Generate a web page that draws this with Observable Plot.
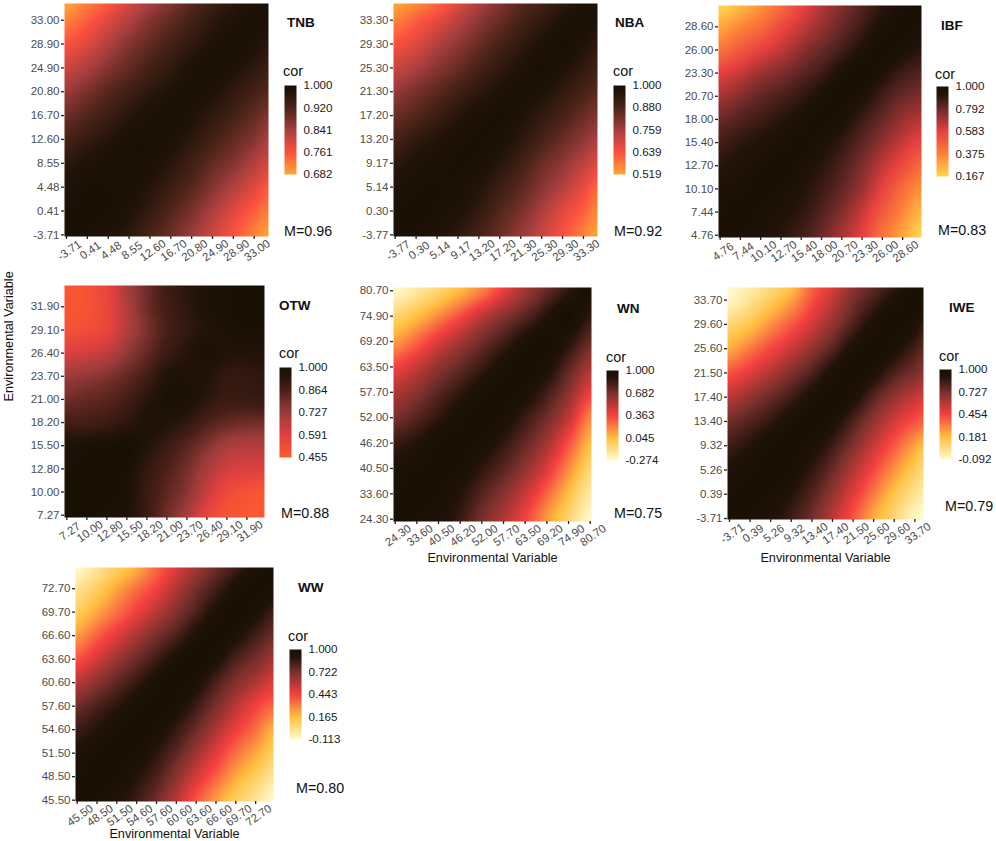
<!DOCTYPE html>
<html>
<head>
<meta charset="utf-8">
<script src="https://cdn.jsdelivr.net/npm/d3@7"></script>
<script src="https://cdn.jsdelivr.net/npm/@observablehq/plot@0.6"></script>
<style>
html,body{margin:0;padding:0;background:#fff}
#page{position:relative;width:996px;height:841px;overflow:hidden;font-family:"Liberation Sans",Arial,sans-serif;color:#111}
#page svg{position:absolute;background:transparent;overflow:visible;opacity:.999}
.t{position:absolute;white-space:nowrap;transform:translateY(-50%);line-height:1}
.title{font-weight:bold;font-size:13.5px}
.cor{font-size:14.4px}
.m{font-size:14.3px}
</style>
</head>
<body>
<div id="page"></div>
<script>
const names = ["TNB","NBA","IBF","OTW","WN","IWE","WW"];
const meanLabels = ["M=0.96","M=0.92","M=0.83","M=0.88","M=0.75","M=0.79","M=0.80"];

const ticksTNB = ["-3.71","0.41","4.48","8.55","12.60","16.70","20.80","24.90","28.90","33.00"];
const ticksNBA = ["-3.77","0.30","5.14","9.17","13.20","17.20","21.30","25.30","29.30","33.30"];
const ticksIBF = ["4.76","7.44","10.10","12.70","15.40","18.00","20.70","23.30","26.00","28.60"];
const ticksOTW = ["7.27","10.00","12.80","15.50","18.20","21.00","23.70","26.40","29.10","31.90"];
const ticksWN  = ["24.30","33.60","40.50","46.20","52.00","57.70","63.50","69.20","74.90","80.70"];
const ticksIWE = ["-3.71","0.39","5.26","9.32","13.40","17.40","21.50","25.60","29.60","33.70"];
const ticksWW  = ["45.50","48.50","51.50","54.60","57.60","60.60","63.60","66.60","69.70","72.70"];

const legendTNB = [0.682,0.761,0.841,0.920,1];
const legendNBA = [0.519,0.639,0.759,0.880,1];
const legendIBF = [0.167,0.375,0.583,0.792,1];
const legendOTW = [0.455,0.591,0.727,0.864,1];
const legendWN  = [-0.274,0.045,0.363,0.682,1];
const legendIWE = [-0.092,0.181,0.454,0.727,1];
const legendWW  = [-0.113,0.165,0.443,0.722,1];

// correlation read at the tick positions; first row is the bottom row of the panel
const corTNB = [
[1,.995,.98,.96,.925,.89,.85,.805,.76,.715,.685],
[.995,1,.995,.98,.95,.915,.88,.835,.79,.75,.72],
[.98,.995,.995,.99,.97,.94,.91,.87,.83,.79,.755],
[.96,.98,.99,.995,.99,.965,.935,.90,.87,.83,.80],
[.925,.95,.97,.99,.995,.985,.96,.93,.90,.87,.84],
[.89,.915,.94,.965,.985,.995,.98,.955,.93,.90,.875],
[.85,.88,.91,.935,.96,.98,.995,.98,.955,.93,.91],
[.805,.835,.87,.90,.93,.955,.98,.995,.98,.96,.94],
[.76,.79,.83,.87,.90,.93,.955,.98,.995,.98,.965],
[.715,.75,.79,.83,.87,.90,.93,.96,.98,.995,.985],
[.685,.72,.755,.80,.84,.875,.91,.94,.965,.985,1]];
const corNBA = [
[1,.99,.97,.94,.89,.84,.78,.71,.64,.57,.52],
[.99,1,.99,.97,.93,.87,.82,.75,.68,.62,.56],
[.97,.99,.995,.985,.96,.91,.86,.80,.74,.67,.61],
[.94,.97,.985,.995,.985,.95,.90,.84,.79,.73,.68],
[.89,.93,.96,.985,.995,.98,.94,.89,.84,.79,.75],
[.84,.87,.91,.95,.98,.995,.97,.93,.89,.84,.81],
[.78,.82,.86,.90,.94,.97,.995,.97,.93,.89,.86],
[.71,.75,.80,.84,.89,.93,.97,.995,.97,.93,.90],
[.64,.68,.74,.79,.84,.89,.93,.97,.995,.97,.94],
[.57,.62,.67,.73,.79,.84,.89,.93,.97,.995,.975],
[.52,.56,.61,.68,.75,.81,.86,.90,.94,.975,1]];
const corIBF = [
[1,.985,.96,.92,.87,.79,.69,.58,.41,.28,.17],
[.985,1,.98,.95,.91,.84,.75,.64,.50,.36,.24],
[.96,.98,1,.98,.94,.88,.81,.71,.58,.44,.33],
[.92,.95,.98,1,.97,.92,.85,.76,.65,.55,.44],
[.87,.91,.94,.97,1,.96,.90,.82,.73,.64,.57],
[.79,.84,.88,.92,.96,1,.96,.88,.80,.72,.67],
[.69,.75,.81,.85,.90,.96,1,.96,.87,.80,.76],
[.58,.64,.71,.76,.82,.88,.96,1,.95,.88,.84],
[.41,.50,.58,.65,.73,.80,.87,.95,1,.96,.92],
[.28,.36,.44,.55,.64,.72,.80,.88,.96,1,.98],
[.17,.24,.33,.44,.57,.67,.76,.84,.92,.98,1]];
const corOTW = [
[1,1,.99,.97,.90,.80,.70,.56,.49,.47,.46],
[1,1,1,.98,.90,.83,.76,.64,.54,.50,.48],
[.99,1,1,.99,.92,.86,.79,.70,.62,.60,.60],
[.97,.98,.99,1,.96,.90,.84,.77,.70,.68,.68],
[.88,.88,.90,.93,.97,.96,.92,.86,.82,.80,.80],
[.80,.82,.84,.88,.94,.98,.98,.93,.90,.90,.91],
[.72,.74,.77,.82,.88,.96,.97,.96,.92,.92,.93],
[.60,.62,.66,.74,.82,.90,.95,.98,.96,.96,.96],
[.50,.52,.56,.68,.78,.87,.92,.96,.98,.99,.99],
[.48,.50,.55,.68,.80,.88,.93,.97,.99,1,1],
[.47,.50,.56,.70,.80,.89,.94,.97,.99,1,1]];
const corWN = [
[1,.985,.94,.84,.68,.54,.36,.13,-.07,-.27],
[.985,1,.98,.90,.77,.64,.48,.27,.04,-.18],
[.94,.98,1,.98,.87,.76,.62,.43,.18,-.08],
[.84,.90,.98,1,.96,.86,.73,.57,.33,.04],
[.68,.77,.87,.96,1,.96,.84,.70,.50,.18],
[.54,.64,.76,.86,.96,1,.95,.82,.64,.38],
[.36,.48,.62,.73,.84,.95,1,.94,.76,.56],
[.13,.27,.43,.57,.70,.82,.94,1,.90,.72],
[-.07,.04,.18,.33,.50,.64,.76,.90,1,.86],
[-.27,-.18,-.08,.04,.18,.38,.56,.72,.86,1]];
const corIWE = [
[1,.98,.93,.85,.74,.58,.41,.22,.08,-.07,-.09],
[.98,1,.98,.91,.81,.67,.50,.33,.16,.03,-.02],
[.93,.98,1,.98,.88,.76,.60,.44,.28,.13,.07],
[.85,.91,.98,1,.96,.85,.71,.55,.40,.25,.18],
[.74,.81,.88,.96,1,.95,.82,.67,.53,.42,.38],
[.58,.67,.76,.85,.95,1,.95,.80,.67,.57,.52],
[.41,.50,.60,.71,.82,.95,1,.95,.82,.73,.68],
[.22,.33,.44,.55,.67,.80,.95,1,.95,.84,.79],
[.08,.16,.28,.40,.53,.67,.82,.95,1,.95,.88],
[-.07,.03,.13,.25,.42,.57,.73,.84,.95,1,.97],
[-.09,-.02,.07,.18,.38,.52,.68,.79,.88,.97,1]];
const corWW = [
[1,.98,.93,.85,.74,.58,.40,.24,.10,0,-.11],
[.98,1,.98,.91,.82,.68,.52,.37,.22,.10,0],
[.93,.98,1,.98,.89,.78,.64,.49,.34,.22,.10],
[.85,.91,.98,1,.97,.87,.75,.61,.46,.34,.20],
[.74,.82,.89,.97,1,.96,.85,.72,.58,.45,.36],
[.58,.68,.78,.87,.96,1,.95,.82,.70,.60,.50],
[.40,.52,.64,.75,.85,.95,1,.94,.82,.73,.63],
[.24,.37,.49,.61,.72,.82,.94,1,.94,.84,.75],
[.10,.22,.34,.46,.58,.70,.82,.94,1,.95,.85],
[0,.10,.22,.34,.45,.60,.73,.84,.95,1,.96],
[-.11,0,.10,.20,.36,.50,.63,.75,.85,.96,1]];

const ink = "#191004";
const nearInk = "#22130a";
const rampTNB = ["#ffa733","#fb5040","#a63e3e","#4b2418",nearInk,ink];
const rampIBF = ["#ffd84a","#ff7f38","#e84040","#6b2a28",nearInk,ink];
const rampOTW = ["#ff5a30","#e04040","#9a3c3a","#4a2018",nearInk,ink];
const rampWN  = ["#fffcd0","#ffc040","#f54040","#78302c",nearInk,ink];

// layout (page pixels)
const rects = [[64,3,268,236],[393,3,597,236],[718,5,921,237],[64,285,264,517],[393,287,591,521],[727,287,923,519],[75,567,273,801]];
const xDomains = [[-.096,9.686],[-.08,9.67],[-.08,9.93],[-.117,9.88],[-.077,9.06],[-.097,9.42],[-.084,9.9]];
const yDomains = [[-.07,9.70],[-.07,9.70],[-.10,9.92],[-.10,9.92],[-.09,9.13],[-.04,9.52],[-.057,9.9]];
const bars = [[284,85,174],[613,85,174],[936,86,176],[279,367,457],[606,370,460],[939,369,459],[289,649,739]];
const titlePos = [[287,23],[615,23],[941,26],[279,306],[617,309],[949,308],[298,588]];
const corPos = [[283,71],[613,71],[935,74],[279,353],[606,357],[939,356],[288,636]];
const meanPos = [[284,231],[614,231],[938,230],[281,513],[614,513],[945,506],[296,788]];
const tickSets = [ticksTNB,ticksNBA,ticksIBF,ticksOTW,ticksWN,ticksIWE,ticksWW];
const legends = [legendTNB,legendNBA,legendIBF,legendOTW,legendWN,legendIWE,legendWW];
const matrices = [corTNB,corNBA,corIBF,corOTW,corWN,corIWE,corWW];
const ramps = [rampTNB,rampTNB,rampIBF,rampOTW,rampWN,rampWN,rampWN];
const xTitleOffset = [null,null,null,null,36,38,32];
const showY = [false,false,false,true,false,false,false];
const axisTitle = "Environmental Variable";

const page = document.getElementById("page");
const font = {fontFamily:'"Liberation Sans",Arial,sans-serif'};

function label(cls, text, [x, y]) {
  const d = document.createElement("div");
  d.className = "t " + cls;
  d.textContent = text;
  d.style.left = x + "px";
  d.style.top = y + "px";
  page.appendChild(d);
}

// smooth reading of a matrix between the nodes it was read at
function sampler(m, nx, ny) {
  const cr = (a, b, c, d, t) => b + 0.5 * t * (c - a + t * (2 * a - 5 * b + 4 * c - d + t * (3 * (b - c) + d - a)));
  const n = m.length;
  const at = (j, i) => m[Math.max(0, Math.min(n - 1, j))][Math.max(0, Math.min(n - 1, i))];
  return (x, y) => {
    const i = Math.max(0, Math.min(n - 2, d3.bisectRight(nx, x) - 1));
    const j = Math.max(0, Math.min(n - 2, d3.bisectRight(ny, y) - 1));
    const u = (x - nx[i]) / (nx[i + 1] - nx[i]);
    const w = (y - ny[j]) / (ny[j + 1] - ny[j]);
    const row = r => cr(at(r, i - 1), at(r, i), at(r, i + 1), at(r, i + 2), u);
    return cr(row(j - 1), row(j), row(j + 1), row(j + 2), w);
  };
}

names.forEach((name, p) => {
  const [l, t, r, b] = rects[p];
  const ml = 60, mr = 24, mt = 4, mb = 42;
  const labels = tickSets[p], m = matrices[p];
  const xd = xDomains[p], yd = yDomains[p];
  const n = m.length;
  const nodesX = d3.range(n).map(i => i === 0 ? xd[0] : i === n - 1 ? xd[1] : i);
  const nodesY = d3.range(n).map(i => i === 0 ? yd[0] : i === n - 1 ? yd[1] : i);
  const lg = legends[p];
  const stops = [lg[0], lg[1], lg[2], lg[3], lg[3] + 0.68 * (lg[4] - lg[3]), lg[4]];
  const color = {type: "linear", domain: stops, range: ramps[p], interpolate: "rgb", clamp: true};
  const idx = d3.range(10);
  const marks = [
    Plot.raster({fill: sampler(m, nodesX, nodesY), x1: xd[0], x2: xd[1], y1: yd[0], y2: yd[1], pixelSize: 1}),
    Plot.axisX(idx, {tickFormat: () => "", tickSize: 3, stroke: "#222", strokeWidth: 1.3, label: null}),
    Plot.axisX(idx, {tickFormat: i => labels[i], tickSize: 0, tickRotate: -35, tickPadding: 14, dx: 3, textAnchor: "middle", lineAnchor: "middle",
      fontSize: 11.5, fill: "#4d4d4d", label: null}),
    Plot.axisY(idx, {tickFormat: i => labels[i], tickSize: 3, tickPadding: 2,
      fontSize: 11.5, fill: "#4d4d4d", stroke: "#222", strokeWidth: 1.3, label: null})
  ];
  if (xTitleOffset[p] != null) marks.push(Plot.text([axisTitle], {frameAnchor: "bottom", lineAnchor: "middle", dy: xTitleOffset[p], fontSize: 12.7, fill: "#111"}));
  if (showY[p]) marks.push(Plot.text([axisTitle], {frameAnchor: "left", dx: -56, rotate: -90, fontSize: 12.7, fill: "#111"}));
  const svg = Plot.plot({
    width: r - l + ml + mr, height: b - t + mt + mb,
    marginLeft: ml, marginRight: mr, marginTop: mt, marginBottom: mb,
    x: {type: "linear", domain: xd}, y: {type: "linear", domain: yd},
    color, style: font, marks
  });
  svg.style.left = (l - ml) + "px";
  svg.style.top = (t - mt) + "px";
  page.appendChild(svg);

  const [bl, bt, bb] = bars[p];
  const leg = Plot.plot({
    width: 12 + 44, height: bb - bt + 16,
    marginLeft: 0, marginRight: 44, marginTop: 8, marginBottom: 8,
    x: {domain: [0, 1], axis: null}, y: {domain: [lg[0], lg[4]]},
    color, style: font,
    marks: [
      Plot.raster({fill: (x, y) => y, x1: 0, x2: 1, y1: lg[0], y2: lg[4], pixelSize: 1}),
      Plot.axisY(lg, {anchor: "right", tickSize: 0, tickPadding: 7, tickFormat: d => d.toFixed(3), fontSize: 11.6, fill: "#1a1a1a", label: null})
    ]
  });
  leg.style.left = bl + "px";
  leg.style.top = (bt - 8) + "px";
  page.appendChild(leg);

  label("title", name, titlePos[p]);
  label("cor", "cor", corPos[p]);
  label("m", meanLabels[p], meanPos[p]);
});
</script>
</body>
</html>
